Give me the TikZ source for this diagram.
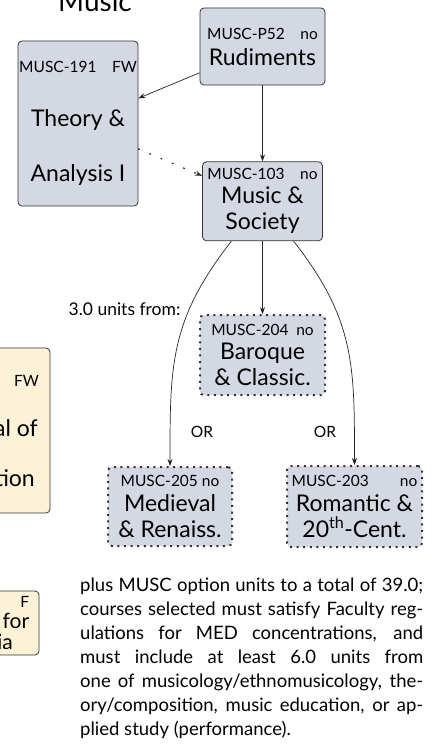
\documentclass[tikz,border=0pt]{standalone}
\usepackage{fontspec}
\setmainfont{Lato}
\usepackage{tikz}
\usetikzlibrary{arrows.meta, positioning}

\definecolor{crsfill}{HTML}{D3D8E2}
\definecolor{basefill}{HTML}{FCF2D8}
\definecolor{crsline}{HTML}{333333}
\newcommand{\crsno}[1]{{\fontsize{15.5}{18}\selectfont #1}}

\begin{document}
\begin{tikzpicture}[x=1pt, y=-1pt, auto, node distance=76pt,
    course/.style={draw=crsline, fill=crsfill, rounded corners=4pt, line width=0.8pt,
        align=center, inner sep=0pt, font=\fontsize{23}{26}\selectfont},
    option/.style={course, dash pattern=on 2pt off 4.6pt, line width=2pt},
    basecrs/.style={course, fill=basefill},
    note/.style={inner sep=0pt, font=\fontsize{17.5}{24}\selectfont}]
    \useasboundingbox (0,0) rectangle (443,749);
    \clip (0,0) rectangle (443,749);

    \node (title) [anchor=base, font=\fontsize{28}{30}\selectfont] at (95,12) {Music};

    \node (p52) [course, minimum width=125pt, minimum height=77pt] at (262.5,46.5)
        {\crsno{MUSC-P52\quad no}\\Rudiments};
    \node (m191) [course, minimum width=120pt, minimum height=165pt] at (78,123.5)
        {\crsno{MUSC-191\quad FW}\\[28pt]Theory \&\\[29pt]Analysis I};
    \node (m103) [course, minimum width=120pt, minimum height=79pt, below=76pt of p52]
        {\crsno{MUSC-103\quad no}\\[-2pt]Music \&\\Society};
    \node (m204) [option, minimum width=125pt, minimum height=80pt, below=73pt of m103]
        {\crsno{MUSC-204\enspace no}\\[-2pt]Baroque\\\& Classic.};
    \node (m205) [option, minimum width=124pt, minimum height=79pt] at (170,506.5)
        {\crsno{MUSC-205 no}\\[-1pt]Medieval\\\& Renaiss.};
    \node (m203) [option, minimum width=135pt, minimum height=81pt] at (354.5,506.5)
        {\crsno{MUSC-203\qquad no}\\[-1pt]Romantic \&\\20\textsuperscript{th}-Cent.};

    % education courses, cut at the left edge
    \node (e180) [basecrs, minimum width=140pt, minimum height=165pt] at (-20,430.5)
        {\crsno{MUSC-180\quad FW}\\[24pt]Essential of\\[24pt]Instruction};
    \node (e170) [basecrs, minimum width=110pt, minimum height=64pt,
        font=\fontsize{21}{21}\selectfont] at (-16,623)
        {\crsno{\makebox[90pt][r]{MUSC-170\hspace{30pt}F}}\\Sound for\\Media};

    \node (units) [note] at (124.5,309) {3.0 units from:};
    \node (or1) [note, font=\fontsize{15.5}{18}\selectfont] at (202,432) {OR};
    \node (or2) [note, font=\fontsize{15.5}{18}\selectfont] at (325,432) {OR};

    \node (req) [note, font=\fontsize{18.5}{24}\selectfont, anchor=north west,
        text width=343pt, align=justify] at (80,578)
        {plus MUSC option units to a total of 39.0;\linebreak
        courses selected must satisfy Faculty reg-\linebreak
        ulations for MED concentrations, and\linebreak
        must include at least 6.0 units from\linebreak
        one of musicology/ethnomusicology, the-\linebreak
        ory/composition, music education, or ap-\linebreak
        plied study (performance).};

    \path[-{Stealth[length=7pt, width=5pt]}, line width=0.7pt, draw=black!85]
    (p52) edge (m191)
    (p52) edge (m103)
    (m191) edge [dash pattern=on 1.2pt off 11pt, line cap=round, line width=1.2pt] (m103)
    (m103) edge (m204)
    (m103) edge [out=-128, in=90, looseness=1.1] (m205)
    (m103) edge [out=-52, in=90, looseness=1.1] (m203);
\end{tikzpicture}
\end{document}
